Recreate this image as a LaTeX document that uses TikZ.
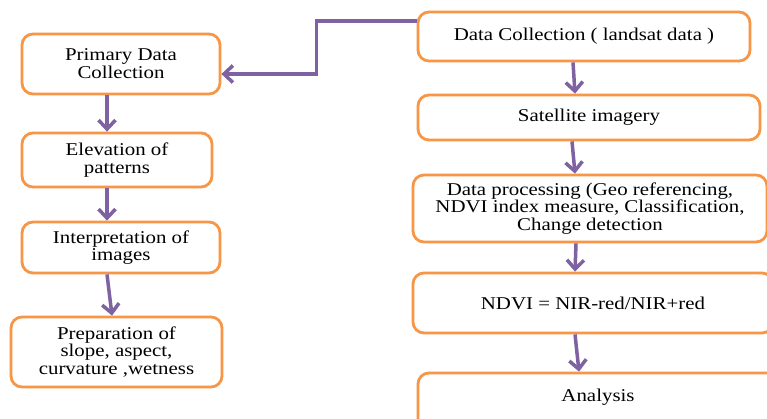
\documentclass[tikz,border=0pt]{standalone}
\usepackage{fontspec}
\setmainfont{Liberation Serif}[FakeStretch=1.16]
\usetikzlibrary{arrows.meta}
\definecolor{boxorange}{HTML}{F79646}
\definecolor{arrpurple}{HTML}{7E62A1}
\tikzset{
  flowbox/.style={draw=boxorange, line width=2.8pt, rounded corners=11pt, fill=white,
    align=center, inner sep=1pt, font=\fontsize{18}{17.8}\selectfont},
  arr/.style={draw=arrpurple, line width=3.5pt,
    -{Straight Barb[length=9pt,width=17pt]}}
}
\begin{document}
\begin{tikzpicture}[x=1pt,y=-1pt]
\clip (0,0) rectangle (767,418);
\fill[white] (0,0) rectangle (767,418);
% left column
\node[flowbox, minimum width=198pt, minimum height=60pt] (p1) at (121,64) {Primary Data\\Collection};
\node[flowbox, minimum width=190pt, minimum height=54pt] (p2) at (117,160) {Elevation of\\patterns};
\node[flowbox, minimum width=198pt, minimum height=51pt] (p3) at (121,247.5) {Interpretation of\\images};
\node[flowbox, minimum width=211pt, minimum height=70pt] (p4) at (116.5,352) {Preparation of\\slope, aspect,\\curvature ,wetness};
% right column
\node[flowbox, minimum width=332pt, minimum height=49pt] (r1) at (584,36.5) {Data Collection ( landsat data )};
\node[flowbox, minimum width=342pt, minimum height=45pt] (r2) at (589,117.5) {Satellite imagery};
\node[flowbox, minimum width=354pt, minimum height=67pt] (r3) at (590,208.5) {Data processing (Geo referencing,\\NDVI index measure, Classification,\\Change detection};
\node[flowbox, minimum width=360pt, minimum height=60pt] (r4) at (593,303) {NDVI = NIR-red/NIR+red};
\node[flowbox, minimum width=360pt, minimum height=70pt] (r5) at (598,408) {};
\node[font=\fontsize{18}{17.8}\selectfont] (r5t) at (598,397) {Analysis};
% connectors
\draw[arr] ([yshift=15.5pt]r1.west) -- ++(-100,0) |- ([yshift=-10pt]p1.east);
\draw[arr] ([xshift=-14pt]p1.south) -- ([xshift=-10pt]p2.north);
\draw[arr] ([xshift=-10pt]p2.south) -- ([xshift=-14pt]p3.north);
\draw[arr] ([xshift=-14pt]p3.south) -- ([xshift=-4.5pt]p4.north);
\draw[arr] ([xshift=-11pt]r1.south) -- ([xshift=-14pt]r2.north);
\draw[arr] ([xshift=-17pt]r2.south) -- ([xshift=-15pt]r3.north);
\draw[arr] ([xshift=-14pt]r3.south) -- ([xshift=-18pt]r4.north);
\draw[arr] ([xshift=-18pt]r4.south) -- ([xshift=-19pt]r5.north);
\end{tikzpicture}
\end{document}
